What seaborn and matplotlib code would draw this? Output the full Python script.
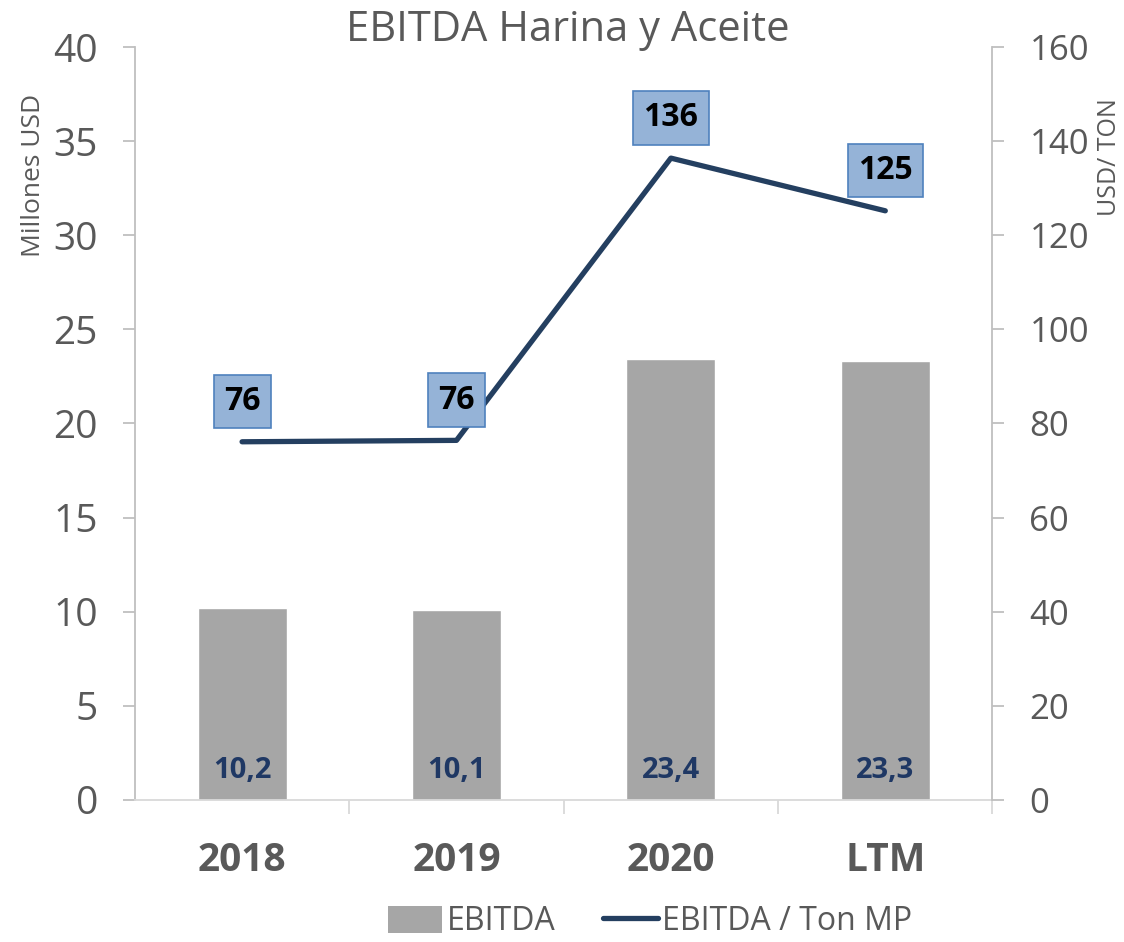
import matplotlib
matplotlib.use("Agg")
import matplotlib.pyplot as plt
import seaborn as sns
import pandas as pd
from matplotlib.patches import Patch
from matplotlib.lines import Line2D

# data
periods = ["2018", "2019", "2020", "LTM"]
ebitda = [10.2, 10.1, 23.4, 23.3]
ebitda_ton = [76.1, 76.4, 136.4, 125.2]
ton_labels = ["76", "76", "136", "125"]

df = pd.DataFrame({"period": periods, "ebitda": ebitda, "ton": ebitda_ton})

sns.set_style("white")
plt.rcParams["font.family"] = ["Open Sans", "DejaVu Sans"]

grey_txt = "#595959"
bar_col = "#A6A6A6"
line_col = "#243F60"

fig = plt.figure(figsize=(11.24, 9.42), dpi=100)
ax = fig.add_axes([0.120, 0.151, 0.763, 0.799])

sns.barplot(data=df, x="period", y="ebitda", color=bar_col, width=0.415,
            saturation=1, ax=ax)
ax.set_ylim(0, 40)
ax.set_yticks(range(0, 41, 5))
ax.set_xlim(-0.5, 3.5)

for i, v in enumerate(ebitda):
    ax.text(i, 1.55, f"{v:.1f}".replace(".", ","), ha="center", va="center",
            fontsize=21, fontweight="bold", color="#1F3864")

ax2 = ax.twinx()
sns.lineplot(data=df, x="period", y="ton", color=line_col, linewidth=3.8,
             ax=ax2, sort=False)
ax2.set_ylim(0, 160)
ax2.set_yticks(range(0, 161, 20))
ax2.set_xlim(-0.5, 3.5)
for i, (v, s) in enumerate(zip(ebitda_ton, ton_labels)):
    ax2.annotate(s, (i, v), xytext=(0, 29), textcoords="offset points",
                 ha="center", va="center", fontsize=23, fontweight="bold",
                 color="black",
                 bbox=dict(boxstyle="square,pad=0.32", fc="#95B3D7",
                           ec="#4F81BD", lw=1.2))

for a in (ax, ax2):
    a.set_xlabel("")
    a.set_ylabel("")
    for sp in a.spines.values():
        sp.set_visible(False)

ax.spines["left"].set_visible(True)
ax.spines["left"].set_color("#BFBFBF")
ax.spines["left"].set_linewidth(1.3)
ax.spines["bottom"].set_visible(True)
ax.spines["bottom"].set_color("#D9D9D9")
ax.spines["bottom"].set_linewidth(1.3)
ax2.spines["right"].set_visible(True)
ax2.spines["right"].set_color("#BFBFBF")
ax2.spines["right"].set_linewidth(1.3)

ax.tick_params(axis="y", left=True, length=8.6, width=1.3, color="#BFBFBF",
               labelsize=28, labelcolor=grey_txt, pad=18)
ax2.tick_params(axis="y", right=True, length=8.6, width=1.3, color="#BFBFBF",
                labelsize=25, labelcolor=grey_txt, pad=18)

ax.set_xticks(range(len(periods)))
ax.set_xticklabels(periods)
ax.set_xticks([0.5, 1.5, 2.5, 3.5], minor=True)
ax.tick_params(axis="x", which="major", length=0, labelsize=28,
               labelcolor=grey_txt, pad=30)
for t in ax.get_xticklabels():
    t.set_fontweight("bold")
ax.tick_params(axis="x", which="minor", bottom=True, length=10, width=1.3,
               color="#D9D9D9")
ax2.tick_params(axis="x", bottom=False, top=False, labelbottom=False)

fig.text(0.505, 1 - 30 / 942, "EBITDA Harina y Aceite", ha="center",
         va="center", fontsize=30, color=grey_txt)
fig.text(0.030, 1 - 175 / 942, "Millones USD", rotation=90, ha="center",
         va="center", fontsize=19, color=grey_txt)
fig.text(0.987, 1 - 157 / 942, "USD/ TON", rotation=90, ha="center",
         va="center", fontsize=18, color=grey_txt)

handles = [Patch(facecolor=bar_col, edgecolor="none"),
           Line2D([], [], color=line_col, linewidth=3.8)]
fig.legend(handles, ["EBITDA", "EBITDA / Ton MP"], loc="center",
           bbox_to_anchor=(650 / 1124, 1 - 922 / 942), ncol=2, frameon=False,
           fontsize=23, labelcolor=grey_txt, handlelength=1.7,
           handleheight=0.9, handletextpad=0.15, columnspacing=1.5)

fig.savefig("out.png", dpi=100)
